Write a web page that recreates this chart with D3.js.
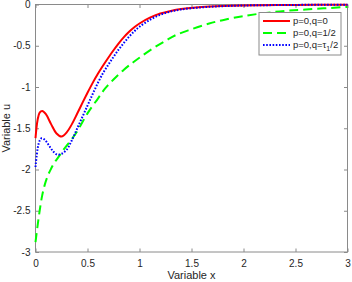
<!DOCTYPE html>
<html>
<head>
<meta charset="utf-8">
<script src="https://cdn.jsdelivr.net/npm/d3@7"></script>
<style>
  body { margin: 0; background: #fff; }
  svg { display: block; font-family: "Liberation Sans", Arial, sans-serif; }
</style>
</head>
<body>
<div id="chart"></div>
<script>
// curves
var redX   = [0, 0.02, 0.04, 0.065, 0.1, 0.15, 0.2, 0.25, 0.3, 0.35, 0.4, 0.45, 0.5, 0.55, 0.6, 0.65, 0.7, 0.75, 0.8, 0.85, 0.9, 0.95, 1.0, 1.1, 1.2, 1.3, 1.4, 1.6, 1.8, 2.0, 2.5, 3.0];
var redY   = [-1.62, -1.40, -1.31, -1.29, -1.33, -1.45, -1.56, -1.60, -1.55, -1.45, -1.325, -1.195, -1.07, -0.95, -0.84, -0.74, -0.645, -0.555, -0.47, -0.395, -0.33, -0.275, -0.23, -0.16, -0.11, -0.078, -0.055, -0.03, -0.018, -0.012, -0.005, -0.002];

var blueX  = [0, 0.02, 0.04, 0.06, 0.09, 0.13, 0.17, 0.21, 0.25, 0.3, 0.35, 0.4, 0.45, 0.5, 0.55, 0.6, 0.65, 0.7, 0.75, 0.8, 0.85, 0.9, 0.95, 1.0, 1.1, 1.2, 1.3, 1.4, 1.6, 1.8, 2.0, 2.5, 3.0];
var blueY  = [-1.97, -1.75, -1.65, -1.62, -1.64, -1.71, -1.78, -1.82, -1.81, -1.76, -1.645, -1.505, -1.365, -1.225, -1.085, -0.95, -0.83, -0.73, -0.635, -0.545, -0.465, -0.39, -0.325, -0.27, -0.185, -0.125, -0.085, -0.06, -0.034, -0.02, -0.012, -0.005, -0.002];

var greenX = [0, 0.017, 0.04, 0.065, 0.09, 0.12, 0.15, 0.18, 0.22, 0.27, 0.3, 0.35, 0.4, 0.5, 0.6, 0.668, 0.75, 0.85, 0.94, 1.0, 1.13, 1.25, 1.35, 1.5, 1.67, 1.8, 2.0, 2.3, 2.6, 3.0];
var greenY = [-2.88, -2.71, -2.50, -2.31, -2.18, -2.07, -1.99, -1.92, -1.85, -1.76, -1.71, -1.63, -1.54, -1.32, -1.14, -1.02, -0.91, -0.79, -0.70, -0.645, -0.53, -0.44, -0.37, -0.30, -0.23, -0.19, -0.14, -0.09, -0.06, -0.03];

var xTicks = [0, 0.5, 1, 1.5, 2, 2.5, 3];
var yTicks = [0, -0.5, -1, -1.5, -2, -2.5, -3];
var legendLabels = ['p=0,q=0', 'p=0,q=1/2', 'p=0,q=τ'];

var series = [
  {x: redX, y: redY, color: '#ff0000', dash: null},
  {x: greenX, y: greenY, color: '#00ff00', dash: '9,5'},
  {x: blueX, y: blueY, color: '#0000ff', dash: '1.6,1.6'}
];

var margin = {top: 4.5, right: 4.5, bottom: 30, left: 35.5};
var W = 352, H = 282;
var width = W - margin.left - margin.right,
    height = H - margin.top - margin.bottom;

var svg = d3.select('#chart').append('svg')
    .attr('width', W)
    .attr('height', H);
var g = svg.append('g').attr('transform', 'translate(' + margin.left + ',' + margin.top + ')');

var x = d3.scaleLinear().domain([0, 3]).range([0, width]);
var y = d3.scaleLinear().domain([-3, 0]).range([height, 0]);

var axisColor = '#8a8a8a';
var textColor = '#262626';
var tickLen = 3.5;

// box
g.append('rect')
    .attr('width', width)
    .attr('height', height)
    .attr('fill', 'none')
    .attr('stroke', axisColor)
    .attr('stroke-width', 1);

function styleAxis(sel, showLabels) {
  sel.select('.domain').remove();
  sel.selectAll('.tick line').attr('stroke', axisColor);
  sel.selectAll('.tick text')
      .attr('fill', textColor)
      .attr('font-size', 10)
      .style('display', showLabels ? null : 'none');
}

g.append('g')
    .attr('transform', 'translate(0,' + height + ')')
    .call(d3.axisBottom(x).tickValues(xTicks).tickFormat(d3.format('')).tickSizeInner(-tickLen).tickPadding(8))
    .call(styleAxis, true);
g.append('g')
    .call(d3.axisTop(x).tickValues(xTicks).tickSizeInner(-tickLen))
    .call(styleAxis, false);
g.append('g')
    .call(d3.axisLeft(y).tickValues(yTicks).tickFormat(d3.format('')).tickSizeInner(-tickLen).tickPadding(5))
    .call(styleAxis, true);
g.append('g')
    .attr('transform', 'translate(' + width + ',0)')
    .call(d3.axisRight(y).tickValues(yTicks).tickSizeInner(-tickLen))
    .call(styleAxis, false);

g.selectAll('.tick text').text(function() {
  return d3.select(this).text().replace('−', '-');
});

// curves
var line = d3.line()
    .x(function(d) { return x(d[0]); })
    .y(function(d) { return y(d[1]); })
    .curve(d3.curveCatmullRom.alpha(0.5));

g.append('g').selectAll('path')
    .data(series)
    .enter().append('path')
      .attr('d', function(s) { return line(s.x.map(function(v, i) { return [v, s.y[i]]; })); })
      .attr('fill', 'none')
      .attr('stroke', function(s) { return s.color; })
      .attr('stroke-width', 2)
      .attr('stroke-dasharray', function(s) { return s.dash; });

// axis titles
svg.append('text')
    .attr('x', margin.left + width / 2)
    .attr('y', 279)
    .attr('text-anchor', 'middle')
    .attr('font-size', 11)
    .attr('fill', textColor)
    .text('Variable x');

svg.append('text')
    .attr('transform', 'translate(9.5,' + (margin.top + height / 2) + ') rotate(-90)')
    .attr('text-anchor', 'middle')
    .attr('font-size', 11)
    .attr('fill', textColor)
    .text('Variable u');

// legend
var legend = svg.append('g').attr('transform', 'translate(259,12.5)');
legend.append('rect')
    .attr('width', 82)
    .attr('height', 42.5)
    .attr('fill', '#fff')
    .attr('stroke', axisColor)
    .attr('stroke-width', 1);

var items = legend.selectAll('g.item')
    .data(series)
    .enter().append('g')
      .attr('class', 'item')
      .attr('transform', function(d, i) { return 'translate(0,' + (8.5 + i * 12) + ')'; });

items.append('line')
    .attr('x1', 4)
    .attr('x2', 31)
    .attr('stroke', function(s) { return s.color; })
    .attr('stroke-width', 2)
    .attr('stroke-dasharray', function(s) { return s.dash; });

var labels = items.append('text')
    .attr('x', 34)
    .attr('dy', '0.35em')
    .attr('font-size', 9.5)
    .attr('fill', textColor)
    .text(function(d, i) { return legendLabels[i]; });

// subscript for tau label
var last = d3.select(labels.nodes()[2]);
last.append('tspan').attr('font-size', 7).attr('dy', 2.5).text('1');
last.append('tspan').attr('dy', -2.5).text('/2');
</script>
</body>
</html>
